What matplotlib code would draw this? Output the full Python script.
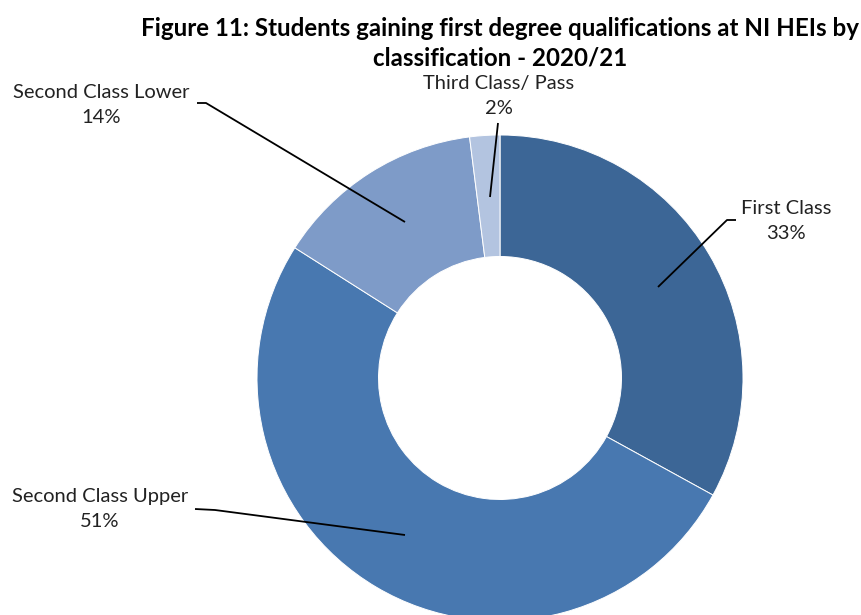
import matplotlib
matplotlib.use("Agg")
import matplotlib.pyplot as plt

categories = ["First Class", "Second Class Upper", "Second Class Lower", "Third Class/ Pass"]
values = [33, 51, 14, 2]
pct_labels = ["33%", "51%", "14%", "2%"]
colors = ["#3C6696", "#4878B0", "#7E9BC8", "#B3C4E0"]

title = "Figure 11: Students gaining first degree qualifications at NI HEIs by\nclassification - 2020/21"

W, H = 861, 615
fig = plt.figure(figsize=(W / 100, H / 100), dpi=100)
ax = fig.add_axes([0, 0, 1, 1])

cx, cy, R = 500, H - 378, 243
ax.pie(values, colors=colors, startangle=90, counterclock=False,
       center=(cx, cy), radius=R, frame=True,
       wedgeprops=dict(width=R * 0.5, edgecolor="white", linewidth=0.7))
ax.set_xlim(0, W)
ax.set_ylim(0, H)
ax.axis("off")

font = "Lato"
fs = 14.5

def Y(y):
    return H - y

# label positions (pixel coords from top) and leader lines
label_pos = {
    "First Class": (786, 221),
    "Second Class Upper": (100, 509),
    "Second Class Lower": (101, 105),
    "Third Class/ Pass": (499, 96),
}
leaders = {
    "First Class": [(736, 220), (727, 220), (658, 287)],
    "Second Class Upper": [(195, 509), (215, 510), (405, 535)],
    "Second Class Lower": [(197, 103), (206, 103), (405, 222)],
    "Third Class/ Pass": [(498, 123), (490, 197)],
}
for cat, pct in zip(categories, pct_labels):
    x, y = label_pos[cat]
    ax.text(x, Y(y), f"{cat}\n{pct}", ha="center", va="center",
            fontsize=fs, family=font, color="#222222", linespacing=1.55)
    pts = leaders[cat]
    ax.plot([p[0] for p in pts], [Y(p[1]) for p in pts], color="black", lw=1.3,
            solid_capstyle="butt")

fig.text(500 / W, 1 - 43 / H, title, ha="center", va="center",
         fontsize=17.4, fontweight="bold", family=font, color="black",
         linespacing=1.35)

fig.savefig("out.png", dpi=100)
